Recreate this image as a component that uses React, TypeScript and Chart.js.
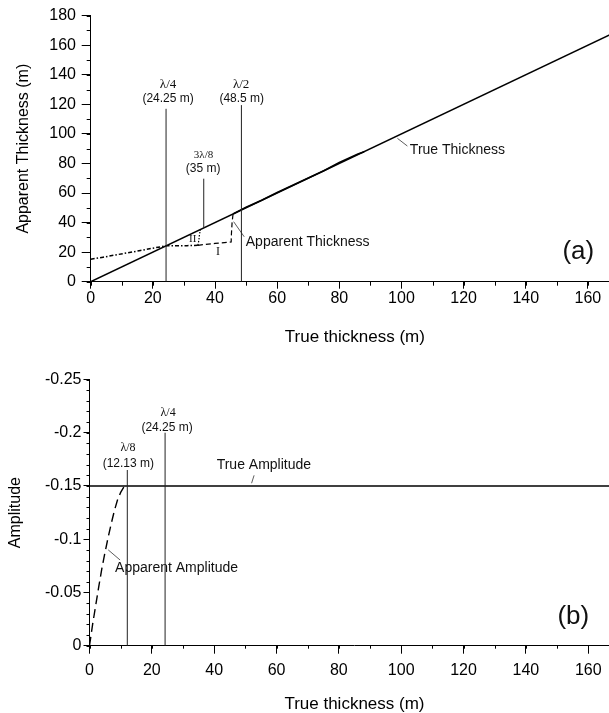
import React, { useEffect, useRef } from "react";
import { Chart, registerables } from "chart.js";
Chart.register(...registerables);

const SANS = "'Liberation Sans', Arial, sans-serif";
const SERIF = "'Liberation Serif', 'Times New Roman', serif";

// ---------- Panel (a) ----------
const xMin = 0;
const xMax = 170;
const xStep = 20;
const thickYMin = 0;
const thickYMax = 180;
const thickYStep = 20;

const trueThicknessX = [0, 170];
const trueThicknessY = [0, 170];

const apparentThicknessX = [0, 4, 8, 12, 16, 20, 24.25, 28, 31, 34.5];
const apparentThicknessY = [15.2, 16.6, 18.1, 19.6, 21.1, 22.7, 24.25, 24.3, 24.4, 24.6];

const branchIX = [34.5, 37, 40, 43, 45.2, 45.3, 45.5, 45.8];
const branchIY = [24.6, 25.3, 25.9, 26.5, 26.9, 33, 40, 45.8];

const branchIIX = [34.5, 34.8, 35.0, 35.3];
const branchIIY = [24.6, 28, 32, 35.3];

const apparentUpperX = [45.8, 50, 55, 60, 65, 70, 75, 80, 83, 86, 88];
const apparentUpperY = [45.8, 50.4, 55.1, 60.3, 65.2, 70.2, 75.1, 80.6, 83.5, 86.4, 88];

const quarterLineX = [24.25, 24.25];
const quarterLineY = [0, 117];
const halfLineX = [48.5, 48.5];
const halfLineY = [0, 119.5];
const threeEighthLineX = [36.375, 36.375];
const threeEighthLineY = [36.4, 69.7];

const appThickLeaderX = [46.0, 49.4];
const appThickLeaderY = [40.6, 30.4];
const trueThickLeaderX = [98.7, 101.9];
const trueThickLeaderY = [97.0, 91.8];

// ---------- Panel (b) ----------
const ampYMin = -0.25;
const ampYMax = 0;
const ampYStep = 0.05;

const trueAmplitudeX = [0, 170];
const trueAmplitudeY = [-0.15, -0.15];

const apparentAmplitudeX = [0, 1, 2, 3, 4, 5, 6, 7, 8, 9, 10, 11];
const apparentAmplitudeY = [0, -0.02, -0.038, -0.056, -0.073, -0.088, -0.102, -0.115, -0.127, -0.137, -0.144, -0.149];

const eighthLineBX = [12.13, 12.13];
const eighthLineBY = [0, -0.165];
const quarterLineBX = [24.25, 24.25];
const quarterLineBY = [0, -0.2];

const trueAmpLeaderX = [52.8, 52.0];
const trueAmpLeaderY = [-0.16, -0.1526];
const appAmpLeaderX = [6.0, 9.8];
const appAmpLeaderY = [-0.09, -0.0805];

type Label = { text: string; x: number; y: number; font: string; align?: CanvasTextAlign };

const labelsA: Label[] = [
  { text: "λ/4", x: 24.9, y: 133.1, font: `13px ${SERIF}` },
  { text: "(24.25 m)", x: 24.9, y: 123.6, font: `12px ${SANS}` },
  { text: "λ/2", x: 48.4, y: 133.1, font: `13px ${SERIF}` },
  { text: "(48.5 m)", x: 48.6, y: 123.6, font: `12px ${SANS}` },
  { text: "3λ/8", x: 36.3, y: 85.5, font: `11px ${SERIF}` },
  { text: "(35 m)", x: 36.2, y: 76.2, font: `12px ${SANS}` },
  { text: "Apparent Thickness", x: 49.9, y: 27, font: `14px ${SANS}`, align: "left" },
  { text: "True Thickness", x: 102.7, y: 89.1, font: `14px ${SANS}`, align: "left" },
  { text: "I", x: 41.0, y: 20.3, font: `12px ${SERIF}` },
  { text: "II", x: 32.8, y: 28.8, font: `11px ${SERIF}` },
  { text: "(a)", x: 156.9, y: 20.3, font: `26px ${SANS}` },
];

const labelsB: Label[] = [
  { text: "λ/4", x: 25.2, y: -0.219, font: `12px ${SERIF}` },
  { text: "(24.25 m)", x: 24.9, y: -0.205, font: `12px ${SANS}` },
  { text: "λ/8", x: 12.35, y: -0.1855, font: `12px ${SERIF}` },
  { text: "(12.13 m)", x: 12.45, y: -0.1714, font: `12px ${SANS}` },
  { text: "True Amplitude", x: 40.8, y: -0.1698, font: `14px ${SANS}`, align: "left" },
  { text: "Apparent Amplitude", x: 8.2, y: -0.0727, font: `14px ${SANS}`, align: "left" },
  { text: "(b)", x: 155.2, y: -0.0273, font: `26px ${SANS}` },
];

const zip = (xs: number[], ys: number[]) => xs.map((x, i) => ({ x, y: ys[i] }));

function makeTextPlugin(items: Label[]) {
  return {
    id: "textLabels",
    afterDatasetsDraw(chart: any) {
      const ctx = chart.ctx;
      const xs = chart.scales.x;
      const ys = chart.scales.y;
      ctx.save();
      for (const it of items) {
        ctx.font = it.font;
        ctx.fillStyle = "#111";
        ctx.textAlign = it.align || "center";
        ctx.textBaseline = "middle";
        ctx.fillText(it.text, xs.getPixelForValue(it.x), ys.getPixelForValue(it.y));
      }
      ctx.restore();
    },
  };
}

function makeMinorTicks(xMinor: number, yMinor: number, yMin: number, yMaxV: number, len: number) {
  return {
    id: "minorTicks",
    afterDraw(chart: any) {
      const ctx = chart.ctx;
      const xs = chart.scales.x;
      const ys = chart.scales.y;
      const a = chart.chartArea;
      ctx.save();
      ctx.strokeStyle = "#000";
      ctx.lineWidth = 1;
      ctx.beginPath();
      const nX = Math.round((xMax - xMin) / xMinor);
      for (let i = 0; i <= nX; i++) {
        const v = xMin + i * xMinor;
        const px = Math.round(xs.getPixelForValue(v)) + 0.5;
        ctx.moveTo(px, a.bottom);
        ctx.lineTo(px, a.bottom + len);
      }
      const nY = Math.round((yMaxV - yMin) / yMinor);
      for (let i = 0; i <= nY; i++) {
        const v = yMin + i * yMinor;
        const py = Math.round(ys.getPixelForValue(v)) + 0.5;
        ctx.moveTo(a.left, py);
        ctx.lineTo(a.left - len, py);
      }
      ctx.stroke();
      ctx.restore();
    },
  };
}

const lineDs = (data: any[], width: number, dash: number[] = [], color = "#000") => ({
  data,
  showLine: true,
  borderColor: color,
  borderWidth: width,
  borderDash: dash,
  pointRadius: 0,
  fill: false,
  tension: 0,
});

function baseScales(opts: {
  yMin: number; yMax: number; yStep: number; yTitle: string; yWidth: number; yTitlePad: number;
  yTick: number; yPad: number; xHeight: number; xTick: number; xPad: number; reverse?: boolean;
}) {
  return {
    x: {
      type: "linear",
      min: xMin,
      max: xMax,
      ticks: {
        stepSize: xStep,
        includeBounds: false,
        padding: opts.xPad,
        color: "#000",
        font: { family: SANS, size: 16 },
        maxRotation: 0,
        autoSkip: false,
      },
      grid: { display: true, drawOnChartArea: false, drawTicks: true, tickLength: opts.xTick, tickColor: "#000", color: "#000" },
      border: { display: true, color: "#000", width: 1 },
      title: {
        display: true,
        text: "True thickness (m)",
        color: "#000",
        font: { family: SANS, size: 17, lineHeight: 1.2 },
        padding: { top: 0, bottom: 2 },
      },
      afterFit: (s: any) => { s.height = opts.xHeight; },
    },
    y: {
      type: "linear",
      min: opts.yMin,
      max: opts.yMax,
      reverse: !!opts.reverse,
      ticks: {
        stepSize: opts.yStep,
        padding: opts.yPad,
        color: "#000",
        font: { family: SANS, size: 16 },
        callback: (v: any) => String(Math.round(Number(v) * 1000) / 1000),
      },
      grid: { display: true, drawOnChartArea: false, drawTicks: true, tickLength: opts.yTick, tickColor: "#000", color: "#000" },
      border: { display: true, color: "#000", width: 1 },
      title: {
        display: true,
        text: opts.yTitle,
        color: "#000",
        font: { family: SANS, size: 16, lineHeight: 1.2 },
        padding: { top: opts.yTitlePad, bottom: 0 },
      },
      afterFit: (s: any) => { s.width = opts.yWidth; },
    },
  };
}

function PanelA() {
  const ref = useRef<HTMLCanvasElement>(null);
  useEffect(() => {
    const chart = new Chart(ref.current!, {
      type: "scatter",
      data: {
        datasets: [
          lineDs(zip(quarterLineX, quarterLineY), 1, [], "#222"),
          lineDs(zip(halfLineX, halfLineY), 1, [], "#222"),
          lineDs(zip(threeEighthLineX, threeEighthLineY), 1, [], "#222"),
          lineDs(zip(appThickLeaderX, appThickLeaderY), 0.8, [], "#333"),
          lineDs(zip(trueThickLeaderX, trueThickLeaderY), 0.8, [], "#333"),
          lineDs(zip(apparentThicknessX, apparentThicknessY), 1.5, [4, 2, 1.5, 2]),
          lineDs(zip(branchIX, branchIY), 1.2, [5, 3]),
          lineDs(zip(branchIIX, branchIIY), 1.2, [1.5, 1.5]),
          lineDs(zip(apparentUpperX, apparentUpperY), 1.6),
          lineDs(zip(trueThicknessX, trueThicknessY), 1.5),
        ] as any,
      },
      options: {
        animation: false,
        responsive: false,
        devicePixelRatio: 1,
        layout: { padding: { left: 0, top: 15.7, right: 11, bottom: 0 } },
        plugins: { legend: { display: false }, tooltip: { enabled: false } },
        scales: baseScales({
          yMin: thickYMin, yMax: thickYMax, yStep: thickYStep, yTitle: "Apparent Thickness (m)",
          yWidth: 90.7, yTitlePad: 14, yTick: 9, yPad: 5.7, xHeight: 68.3, xTick: 7, xPad: 0,
        }) as any,
      },
      plugins: [makeTextPlugin(labelsA), makeMinorTicks(10, 10, thickYMin, thickYMax, 4)],
    });
    return () => chart.destroy();
  }, []);
  return (
    <canvas ref={ref} width={630} height={350}
      style={{ position: "absolute", left: 0, top: 0, width: 630, height: 350 }} />
  );
}

function PanelB() {
  const ref = useRef<HTMLCanvasElement>(null);
  useEffect(() => {
    const chart = new Chart(ref.current!, {
      type: "scatter",
      data: {
        datasets: [
          lineDs(zip(eighthLineBX, eighthLineBY), 1, [], "#222"),
          lineDs(zip(quarterLineBX, quarterLineBY), 1, [], "#222"),
          lineDs(zip(trueAmpLeaderX, trueAmpLeaderY), 0.8, [], "#333"),
          lineDs(zip(appAmpLeaderX, appAmpLeaderY), 0.8, [], "#333"),
          lineDs(zip(apparentAmplitudeX, apparentAmplitudeY), 1.4, [9, 5]),
          lineDs(zip(trueAmplitudeX, trueAmplitudeY), 1.5),
        ] as any,
      },
      options: {
        animation: false,
        responsive: false,
        devicePixelRatio: 1,
        layout: { padding: { left: 0, top: 27.5, right: 10.6, bottom: 0 } },
        plugins: { legend: { display: false }, tooltip: { enabled: false } },
        scales: baseScales({
          yMin: ampYMin, yMax: ampYMax, yStep: ampYStep, yTitle: "Amplitude",
          yWidth: 89.5, yTitlePad: 6, yTick: 6, yPad: 2, xHeight: 71.3, xTick: 8, xPad: 7, reverse: true,
        }) as any,
      },
      plugins: [makeTextPlugin(labelsB), makeMinorTicks(10, 0.01, ampYMin, ampYMax, 3)],
    });
    return () => chart.destroy();
  }, []);
  return (
    <canvas ref={ref} width={630} height={365}
      style={{ position: "absolute", left: 0, top: 352, width: 630, height: 365 }} />
  );
}

export default function App() {
  return (
    <div style={{ position: "absolute", left: 0, top: 0, width: 609, height: 713, overflow: "hidden", background: "#fff" }}>
      <PanelA />
      <PanelB />
    </div>
  );
}
